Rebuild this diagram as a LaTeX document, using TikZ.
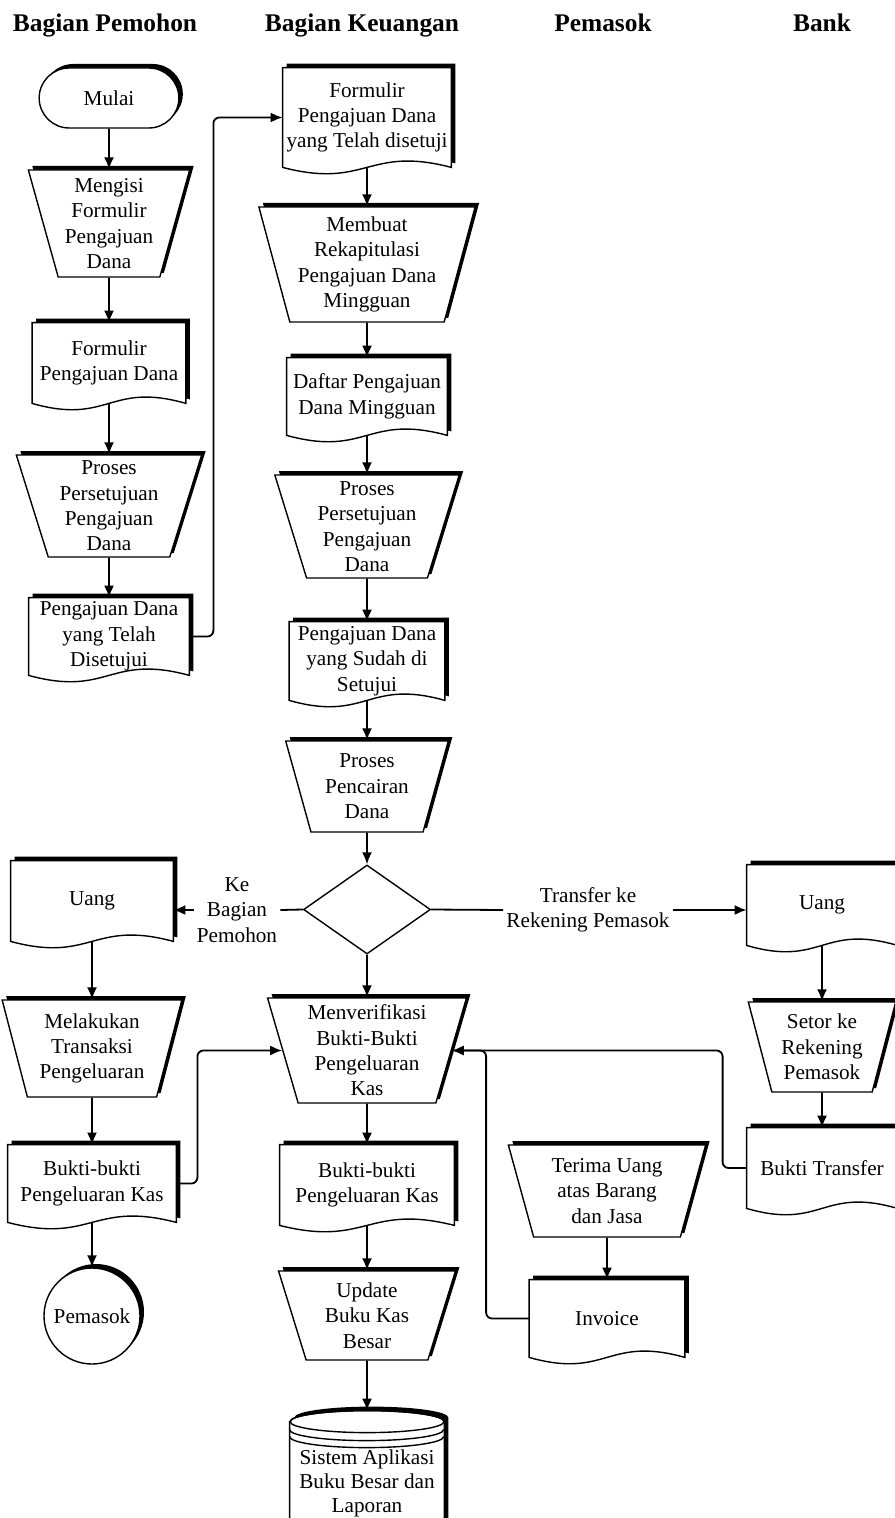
\documentclass[tikz,border=0pt]{standalone}
\usepackage{fontspec}
\setmainfont{Liberation Serif}
\usetikzlibrary{shapes.geometric,shapes.misc,arrows.meta,shadows,backgrounds}

\tikzset{
  every node/.style={font=\fontsize{10.6}{12.7}\selectfont, align=center},
  head/.style={font=\fontsize{12.7}{14}\selectfont\bfseries, anchor=base},
  blockshadow/.style={drop shadow={shadow xshift=2pt, shadow yshift=2pt, fill=black, opacity=1}},
  manual/.style 2 args={trapezium, shape border rotate=180, trapezium stretches=true,
    trapezium left angle=74, trapezium right angle=74, draw, line width=0.7pt,
    fill=white, blockshadow, inner sep=1pt, minimum width=#1, minimum height=#2},
  doc/.style 2 args={rectangle, inner sep=1pt, minimum width=#1, minimum height=#2},
  flow/.style={line width=0.9pt, rounded corners=3pt, -{Latex[length=6pt,width=5pt]}},
  link/.style={line width=0.9pt},
}

\begin{document}
\begin{tikzpicture}[x=0.5pt, y=0.5pt]
    \useasboundingbox (0,0) rectangle (894,-1518);

    % Lane headings
    \node[head] (hPemohon) at (105,-32) {Bagian Pemohon};
    \node[head] (hKeuangan) at (362,-32) {Bagian Keuangan};
    \node[head] (hPemasok) at (603,-32) {Pemasok};
    \node[head] (hBank) at (822,-32) {Bank};

    % Bagian Pemohon
    \node[rounded rectangle, draw, line width=0.7pt, fill=white, blockshadow,
      minimum width=76.5pt, minimum height=30pt] (mulai) at (109,-98) {Mulai};
    \node[manual={81pt}{53.5pt}] (isi) at (109,-223.5) {Mengisi\\Formulir\\Pengajuan\\Dana};
    \node[doc={76.5pt}{40pt}] (formA) at (109,-363) {Formulir\\Pengajuan Dana};
    \node[manual={93pt}{51pt}] (prosesA) at (109,-506) {Proses\\Persetujuan\\Pengajuan\\Dana};
    \node[doc={80pt}{38.5pt}] (disetujuiA) at (109,-636.5) {Pengajuan Dana\\yang Telah\\Disetujui};

    % Bagian Keuangan
    \node[doc={84pt}{49.5pt}] (formB) at (367,-117.5) {Formulir\\Pengajuan Dana\\yang Telah disetuji};
    \node[manual={108.5pt}{57.5pt}] (rekap) at (367,-264.5) {Membuat\\Rekapitulasi\\Pengajuan Dana\\Mingguan};
    \node[doc={80pt}{38.5pt}] (daftar) at (367,-396.5) {Daftar Pengajuan\\Dana Mingguan};
    \node[manual={92.5pt}{51.5pt}] (prosesB) at (367,-526.5) {Proses\\Persetujuan\\Pengajuan\\Dana};
    \node[doc={77.5pt}{39pt}] (disetujuiB) at (367,-661) {Pengajuan Dana\\yang Sudah di\\Setujui};
    \node[manual={81.5pt}{45.5pt}] (cair) at (367,-786.5) {Proses\\Pencairan\\Dana};
    \node[diamond, draw, line width=0.7pt, minimum width=63.5pt, minimum height=44.5pt,
      inner sep=0pt] (pilih) at (367,-909.5) {};
    \node[manual={100pt}{52.5pt}] (verif) at (367,-1050.5) {Menverifikasi\\Bukti-Bukti\\Pengeluaran\\Kas};
    \node[doc={87pt}{40pt}] (buktiB) at (367,-1185) {Bukti-bukti\\Pengeluaran Kas};
    \node[manual={88.5pt}{44.5pt}] (update) at (367,-1315.5) {Update\\Buku Kas\\Besar};
    \node[rectangle, inner sep=1pt, minimum width=77pt, minimum height=72pt,
      font=\fontsize{10.6}{12}\selectfont] (sistem) at (367,-1483)
      {Sistem Aplikasi\\Buku Besar dan\\Laporan};

    % Uang ke Bagian Pemohon
    \node[doc={81pt}{40pt}] (uangA) at (92,-901) {Uang};
    \node[manual={90pt}{48.5pt}] (transaksi) at (92,-1048.5) {Melakukan\\Transaksi\\Pengeluaran};
    \node[doc={84pt}{38.5pt}] (buktiA) at (92,-1183.5) {Bukti-bukti\\Pengeluaran Kas};
    \node[circle, draw, line width=0.7pt, fill=white, blockshadow, minimum size=48pt,
      inner sep=0pt] (pemasok) at (92,-1316) {Pemasok};

    % Pemasok
    \node[manual={99pt}{46pt}] (terima) at (607,-1191) {Terima Uang\\atas Barang\\dan Jasa};
    \node[doc={77.5pt}{38.5pt}] (invoice) at (607,-1318.5) {Invoice};

    % Bank
    \node[doc={75pt}{40pt}] (uangB) at (822,-905) {Uang};
    \node[manual={74pt}{45pt}] (setor) at (822,-1047) {Setor ke\\Rekening\\Pemasok};
    \node[doc={75pt}{40pt}] (transfer) at (822,-1168) {Bukti Transfer};

    % Branch labels
    \node[inner sep=1.5pt] (kebagian) at (237,-910) {Ke\\Bagian\\Pemohon};
    \node[inner sep=1.5pt] (kerekening) at (588,-910) {Transfer ke\\Rekening Pemasok};

    % Document and disk outlines behind the text
    \begin{pgfonlayer}{background}
      \foreach \d in {formA,disetujuiA,formB,daftar,disetujuiB,uangA,buktiA,buktiB,invoice,uangB,transfer}
        \draw[line width=0.7pt, fill=white, blockshadow] (\d.north west) -- (\d.north east) -- (\d.south east)
          .. controls ([yshift=11pt]\d.south) and ([yshift=-11pt]\d.south) .. (\d.south west) -- cycle;
      \draw[line width=0.7pt, fill=white, blockshadow] ([yshift=-5.5pt]sistem.north west) -- (sistem.south west)
        -- (sistem.south east) -- ([yshift=-5.5pt]sistem.north east)
        arc[start angle=0, end angle=180, x radius=38.5pt, y radius=5.5pt] -- cycle;
      \draw[line width=0.7pt] ([yshift=-5.5pt]sistem.north) ellipse [x radius=38.5pt, y radius=5.5pt];
      \draw[line width=0.7pt] ([yshift=-9.5pt]sistem.north west) arc[start angle=180, end angle=360, x radius=38.5pt, y radius=5.5pt];
      \draw[line width=0.7pt] ([yshift=-13pt]sistem.north west) arc[start angle=180, end angle=360, x radius=38.5pt, y radius=5.5pt];
    \end{pgfonlayer}

    % Flow in Bagian Pemohon
    \draw[flow] (mulai.south) -- (isi.north);
    \draw[flow] (isi.south) -- (formA.north);
    \draw[flow] (formA.south) -- (prosesA.north);
    \draw[flow] (prosesA.south) -- (disetujuiA.north);
    \draw[flow] (disetujuiA.east) -- ++(24,0) |- (formB.west); % to Keuangan

    % Flow in Bagian Keuangan
    \draw[flow] (formB.south) -- (rekap.north);
    \draw[flow] (rekap.south) -- (daftar.north);
    \draw[flow] (daftar.south) -- (prosesB.north);
    \draw[flow] (prosesB.south) -- (disetujuiB.north);
    \draw[flow] (disetujuiB.south) -- (cair.north);
    \draw[flow] (cair.south) -- (pilih.north);
    \draw[flow] (pilih.south) -- (verif.north);
    \draw[flow] (verif.south) -- (buktiB.north);
    \draw[flow] (buktiB.south) -- (update.north);
    \draw[flow] (update.south) -- (sistem.north);

    % Decision branches
    \draw[link] (pilih.west) -- (kebagian.east);
    \draw[flow] (kebagian.west) -- (kebagian.west -| uangA.east);
    \draw[link] (pilih.east) -- (kerekening.west);
    \draw[flow] (kerekening.east) -- (kerekening.east -| uangB.west);

    % Pemohon pays the supplier
    \draw[flow] (uangA.south) -- (transaksi.north);
    \draw[flow] (transaksi.south) -- (buktiA.north);
    \draw[flow] (buktiA.south) -- (pemasok.north);
    \draw[flow] (buktiA.east) -- ++(21,0) |- (verif.west);

    % Transfer through the bank
    \draw[flow] (uangB.south) -- (setor.north);
    \draw[flow] (setor.south) -- (transfer.north);
    \draw[flow] (transfer.west) -- ++(-24,0) |- (verif.east);

    % Supplier side
    \draw[flow] (terima.south) -- (invoice.north);
    \draw[flow] (invoice.west) -- ++(-43,0) |- (verif.east);
\end{tikzpicture}
\end{document}
